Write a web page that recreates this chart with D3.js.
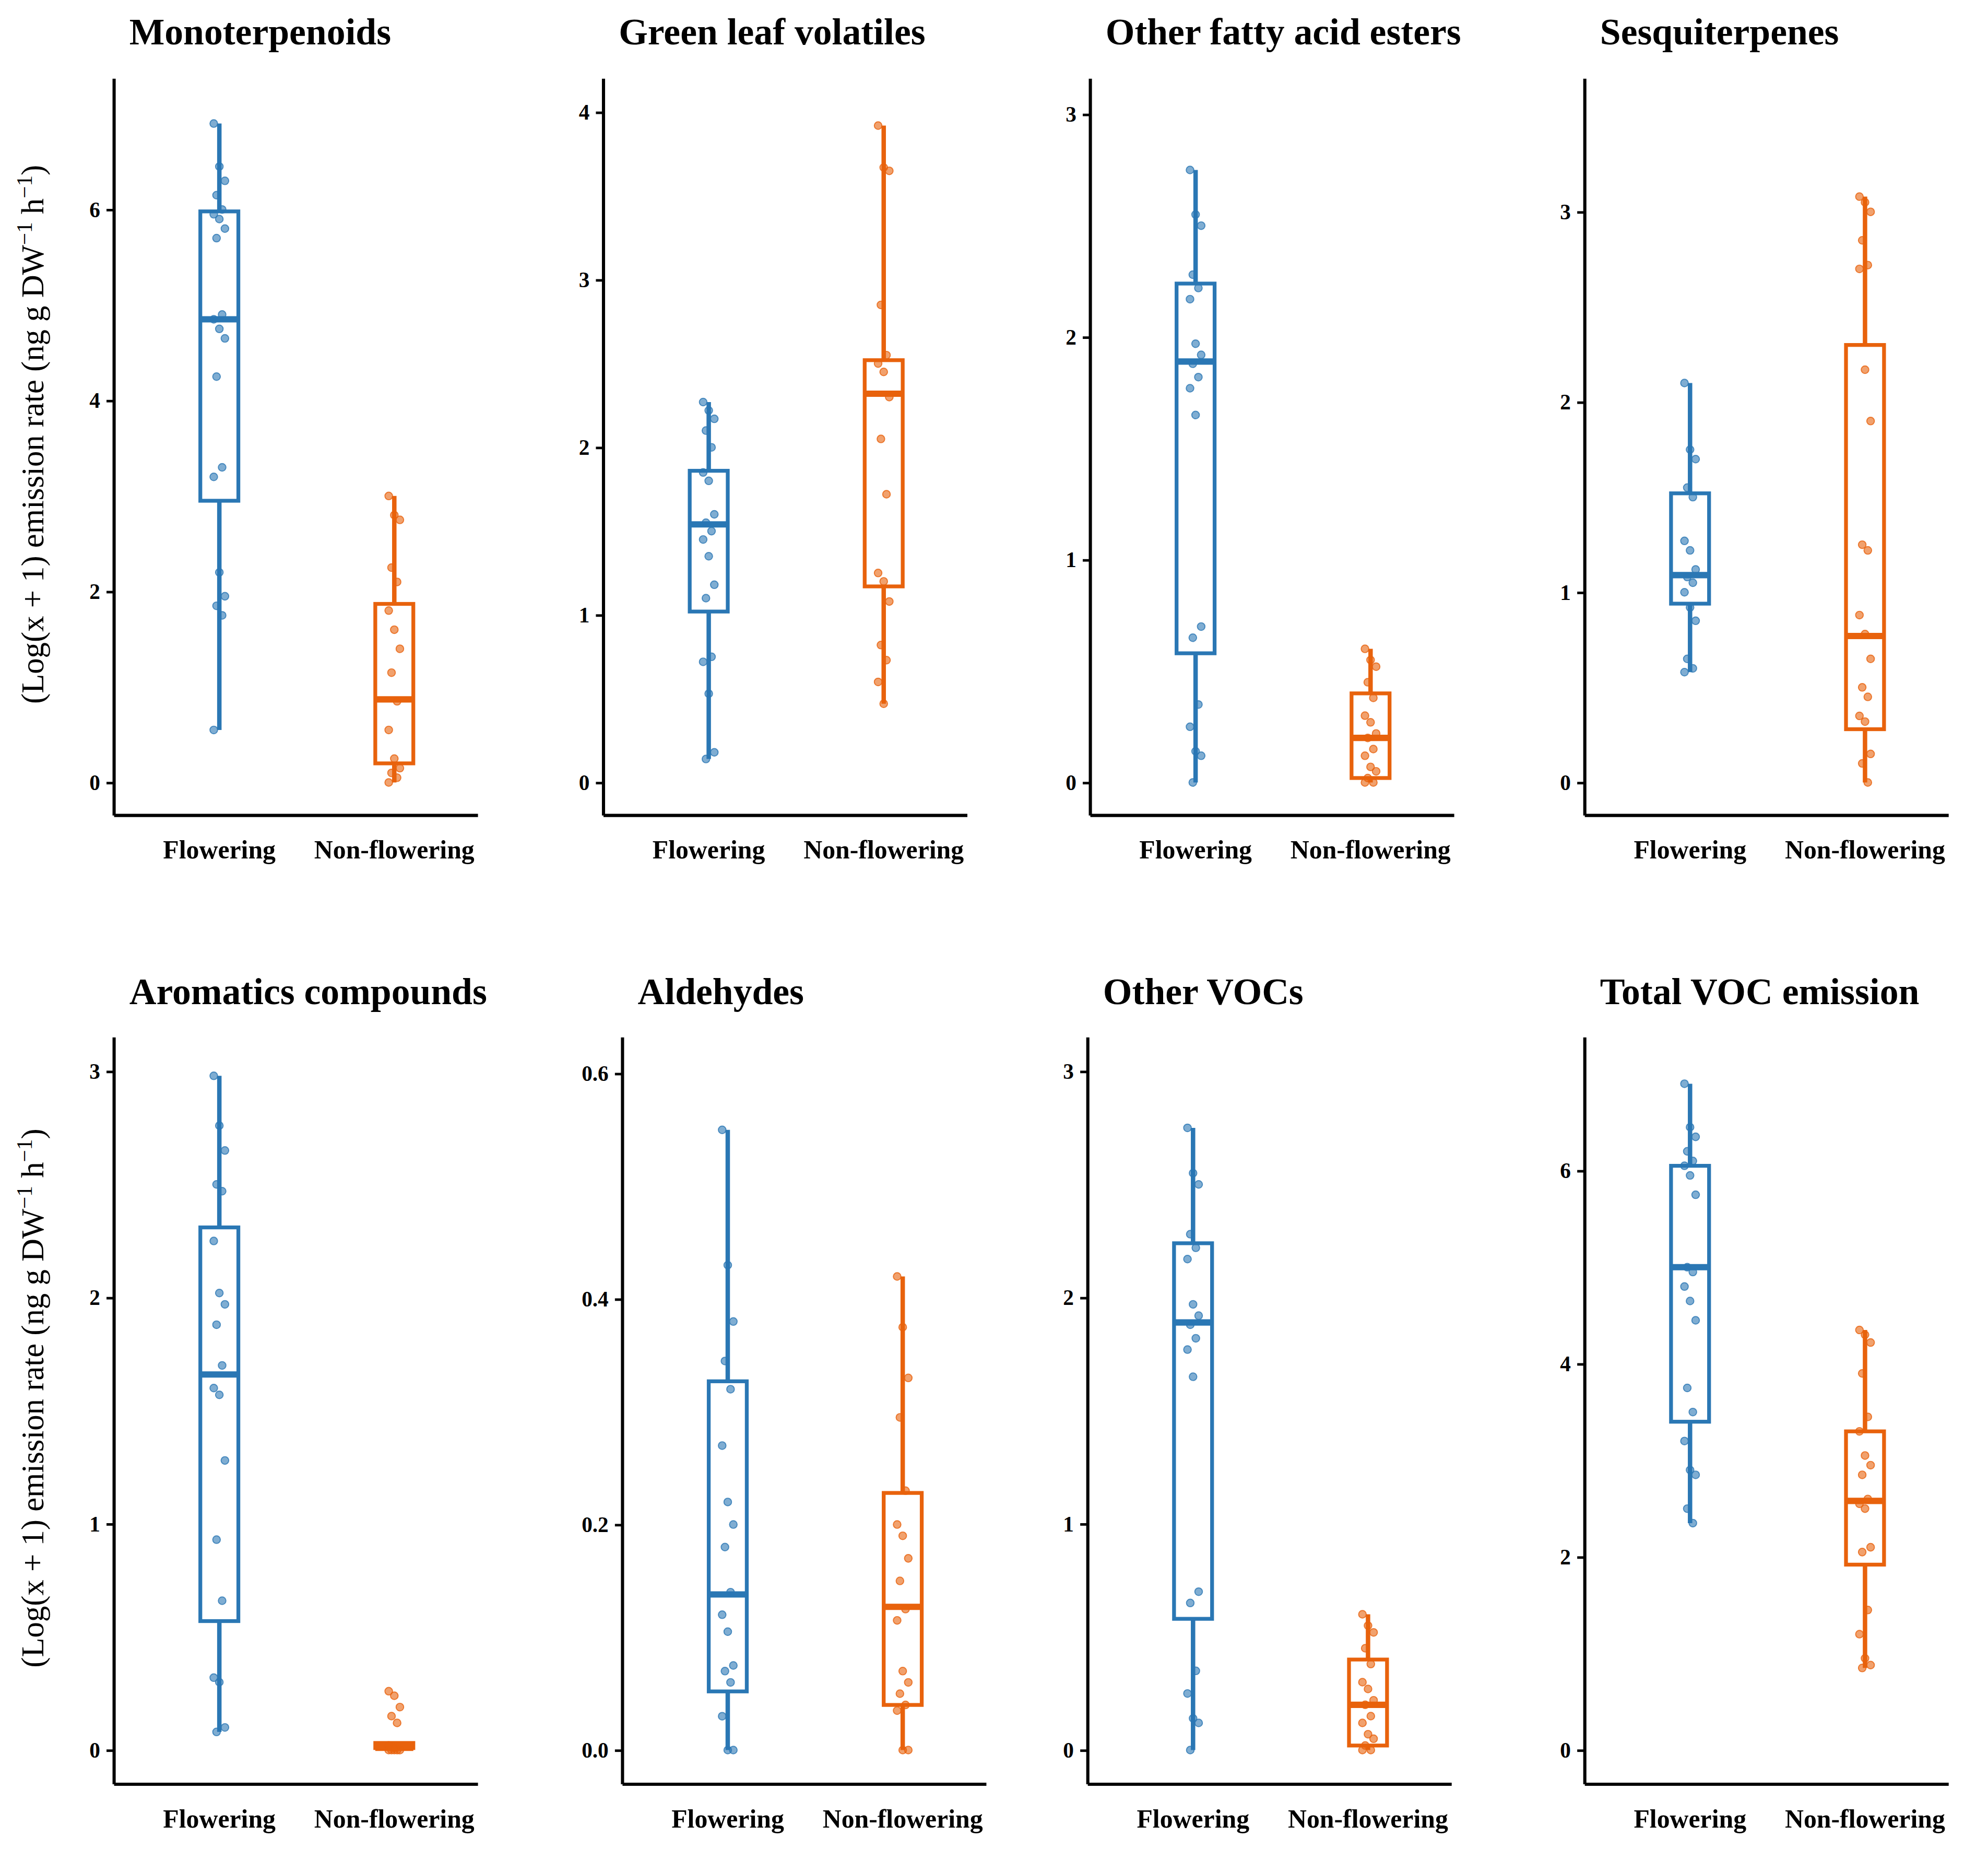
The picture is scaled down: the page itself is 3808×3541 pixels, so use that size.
<!DOCTYPE html>
<html><head><meta charset="utf-8">
<script src="https://cdn.jsdelivr.net/npm/d3@7"></script>
<style>body{margin:0;background:#fff}</style>
</head><body>
<svg id="app" width="3808" height="3541" viewBox="0 0 1568 1458"></svg>
<script>
// panel titles, axis maxima and ticks
const titles = ["Monoterpenoids","Green leaf volatiles","Other fatty acid esters","Sesquiterpenes",
  "Aromatics compounds","Aldehydes","Other VOCs","Total VOC emission"];
const categories = ["Flowering","Non-flowering"];
const yMax = [7.37,4.2,3.16,3.7,3.15,0.632,3.15,7.38];
const yTicks = [[0,2,4,6],[0,1,2,3,4],[0,1,2,3],[0,1,2,3],[0,1,2,3],[0,0.2,0.4,0.6],[0,1,2,3],[0,2,4,6]];

// box stats: [min, q1, median, q3, max] per panel, per category
const boxFlowering = [[0.55,2.95,4.85,5.98,6.9],[0.14,1.02,1.54,1.86,2.27],[0,0.58,1.89,2.24,2.75],[0.58,0.94,1.09,1.52,2.1],
  [0.08,0.57,1.66,2.31,2.98],[0,0.052,0.138,0.327,0.55],[0,0.58,1.89,2.24,2.75],[2.35,3.4,5.0,6.05,6.9]];
const boxNonFlowering = [[0,0.2,0.87,1.87,3.0],[0.47,1.17,2.32,2.52,3.92],[0,0.02,0.2,0.4,0.6],[0,0.28,0.77,2.3,3.08],
  [0,0,0.01,0.02,0.02],[0,0.04,0.127,0.228,0.42],[0,0.02,0.2,0.4,0.6],[0.85,1.92,2.58,3.3,4.35]];

// individual observations
const ptsFlowering = [
  [6.9,6.45,6.3,6.15,6.0,5.95,5.9,5.8,5.7,4.9,4.85,4.75,4.65,4.25,3.3,3.2,2.2,1.95,1.85,1.75,0.55],
  [2.27,2.22,2.17,2.1,2.0,1.85,1.8,1.6,1.55,1.5,1.45,1.35,1.18,1.1,0.75,0.72,0.53,0.18,0.14],
  [2.75,2.55,2.5,2.28,2.22,2.17,1.97,1.92,1.88,1.82,1.77,1.65,0.7,0.65,0.35,0.25,0.14,0.12,0.0],
  [2.1,1.75,1.7,1.55,1.5,1.27,1.22,1.12,1.08,1.05,1.0,0.92,0.85,0.65,0.6,0.58],
  [2.98,2.76,2.65,2.5,2.47,2.25,2.02,1.97,1.88,1.7,1.6,1.57,1.28,0.93,0.66,0.32,0.3,0.1,0.08],
  [0.55,0.43,0.38,0.345,0.32,0.27,0.22,0.2,0.18,0.14,0.12,0.105,0.075,0.07,0.06,0.03,0.0,0.0],
  [2.75,2.55,2.5,2.28,2.22,2.17,1.97,1.92,1.88,1.82,1.77,1.65,0.7,0.65,0.35,0.25,0.14,0.12,0.0],
  [6.9,6.45,6.35,6.2,6.1,6.05,5.95,5.75,5.0,4.95,4.8,4.65,4.45,3.75,3.5,3.2,2.9,2.85,2.5,2.35]];
const ptsNonFlowering = [
  [3.0,2.8,2.75,2.25,2.1,1.8,1.6,1.4,1.15,0.85,0.55,0.25,0.15,0.1,0.05,0.0],
  [3.92,3.67,3.65,2.85,2.55,2.5,2.45,2.3,2.05,1.72,1.25,1.2,1.08,0.82,0.73,0.6,0.47],
  [0.6,0.55,0.52,0.45,0.38,0.3,0.27,0.22,0.2,0.15,0.12,0.07,0.05,0.02,0.0,0.0],
  [3.08,3.05,3.0,2.85,2.72,2.7,2.17,1.9,1.25,1.22,0.88,0.78,0.65,0.5,0.45,0.35,0.32,0.15,0.1,0.0],
  [0.26,0.24,0.19,0.15,0.12,0.02,0.01,0,0,0,0,0],
  [0.42,0.375,0.33,0.295,0.23,0.2,0.19,0.17,0.15,0.125,0.115,0.07,0.06,0.05,0.04,0.035,0.0,0.0],
  [0.6,0.55,0.52,0.45,0.38,0.3,0.27,0.22,0.2,0.15,0.12,0.07,0.05,0.02,0.0,0.0],
  [4.35,4.3,4.22,3.9,3.45,3.3,3.05,2.95,2.85,2.6,2.55,2.5,2.1,2.05,1.45,1.2,0.95,0.88,0.85]];

const colors = ["#2a77b4","#e8620c"];
const svg = d3.select("#app");
const axisX = [90,476,860,1250, 90,491,858,1250];
const rows = [{top:62,bottom:643,zero:617,title:35,cat:677},{top:818,bottom:1407,zero:1380,title:792,cat:1441}];
const font = "'Liberation Serif','Times New Roman',serif";

titles.forEach((t,i)=>{
  const r = rows[Math.floor(i/4)], x0 = axisX[i], w = 287;
  const g = svg.append("g");
  const y = d3.scaleLinear().domain([0,yMax[i]]).range([r.zero, r.top]);
  const x = d3.scalePoint().domain(categories).range([x0+83, x0+221]);
  const ya = g.append("g").attr("transform",`translate(${x0},0)`)
    .call(d3.axisLeft(y).tickValues(yTicks[i]).tickSize(6).tickPadding(5)
      .tickFormat(i===5 ? d3.format(".1f") : d3.format("d")));
  ya.select(".domain").remove();
  g.append("line").attr("x1",x0).attr("x2",x0).attr("y1",r.top).attr("y2",r.bottom).attr("stroke","#000").attr("stroke-width",2.5);
  g.append("line").attr("x1",x0).attr("x2",x0+w).attr("y1",r.bottom).attr("y2",r.bottom).attr("stroke","#000").attr("stroke-width",2.5);
  ya.selectAll("line").attr("stroke-width",2);
  ya.selectAll("text").attr("font-family",font).attr("font-weight","bold").attr("font-size",17).attr("fill","#000");
  g.selectAll(".cat").data(categories).join("text")
    .attr("x",d=>x(d)).attr("y",r.cat).attr("text-anchor","middle")
    .attr("font-family",font).attr("font-weight","bold").attr("font-size",20.5).text(d=>d);
  g.append("text").attr("x",x0+12).attr("y",r.title).attr("font-family",font).attr("font-weight","bold")
    .attr("font-size",29.5).text(t);

  [boxFlowering[i], boxNonFlowering[i]].forEach((b,k)=>{
    const cx = x(categories[k]), c = colors[k], bw = 30;
    g.append("line").attr("x1",cx).attr("x2",cx).attr("y1",y(b[0])).attr("y2",y(b[4])).attr("stroke",c).attr("stroke-width",3.5);
    const hgt = Math.max(y(b[1])-y(b[3]), 4);
    g.append("rect").attr("x",cx-bw/2).attr("y",y(b[3])-(hgt>4?0:2)).attr("width",bw).attr("height",hgt)
      .attr("fill",hgt>4?"#fff":c).attr("stroke",c).attr("stroke-width",3);
    g.append("line").attr("x1",cx-bw/2).attr("x2",cx+bw/2).attr("y1",y(b[2])).attr("y2",y(b[2])).attr("stroke",c).attr("stroke-width",5);
    const pts = k===0 ? ptsFlowering[i] : ptsNonFlowering[i];
    g.selectAll(null).data(pts).join("circle")
      .attr("cx",(d,j)=>cx + ((j*7)%5-2)*2.2).attr("cy",d=>y(d)).attr("r",3)
      .attr("fill",c).attr("fill-opacity",0.6).attr("stroke",c).attr("stroke-opacity",0.8).attr("stroke-width",0.8);
  });
});

// y labels for both rows
rows.forEach(r=>{
  const cy = (r.top+r.bottom)/2 - 10;
  const tx = svg.append("text").attr("transform",`translate(34,${cy}) rotate(-90)`).attr("text-anchor","middle")
    .attr("font-family",font).attr("font-size",25);
  tx.append("tspan").text("(Log(x + 1) emission rate (ng g DW");
  tx.append("tspan").attr("dy",-9).attr("font-size",17).text("\u22121");
  tx.append("tspan").attr("dy",9).text(" h");
  tx.append("tspan").attr("dy",-9).attr("font-size",17).text("\u22121");
  tx.append("tspan").attr("dy",9).text(")");
});
</script>
</body></html>
